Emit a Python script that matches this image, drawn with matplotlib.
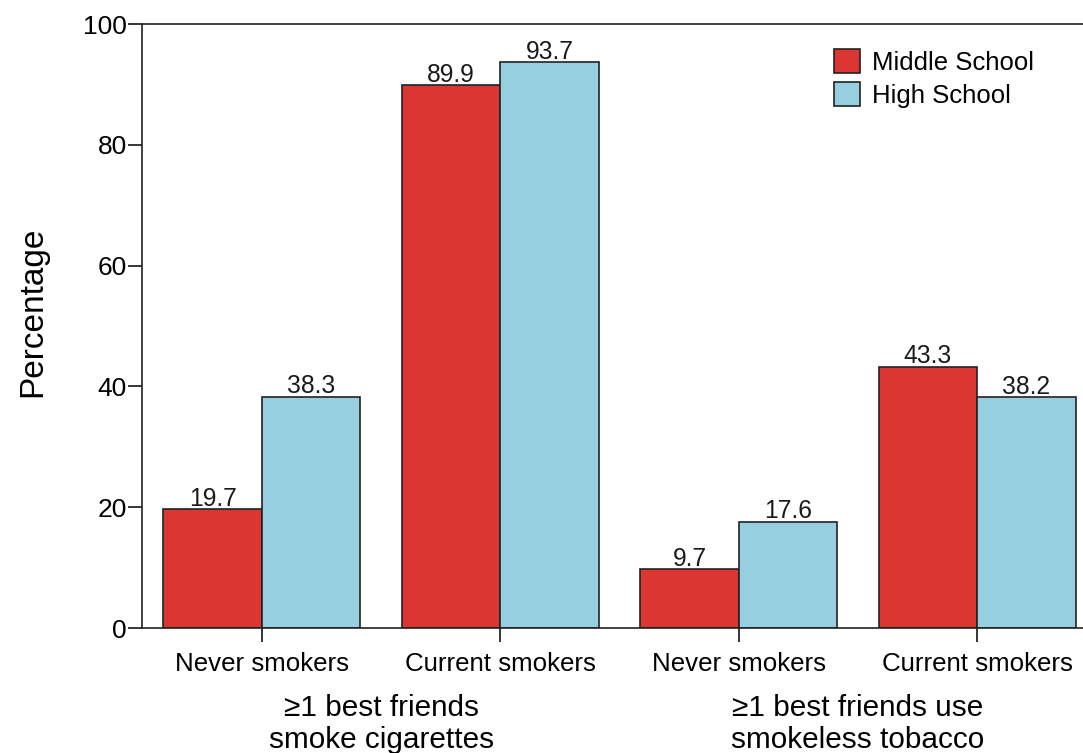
import matplotlib.pyplot as plt
import numpy as np

plt.rcParams['font.family'] = ['Liberation Sans', 'DejaVu Sans']

categories = ["Never smokers", "Current smokers", "Never smokers", "Current smokers"]
group_lines = [["\u22651 best friends", "smoke cigarettes"],
               ["\u22651 best friends use", "smokeless tobacco"]]
middle = [19.7, 89.9, 9.7, 43.3]
high = [38.3, 93.7, 17.6, 38.2]

red = "#dc3633"
blue = "#96cfdf"
edge = "#222222"

fig = plt.figure(figsize=(10.83, 7.53), dpi=100)
ax = fig.add_axes([0.1311, 0.166, 0.8689, 0.802])

x = np.arange(len(categories))
w = 0.413
b1 = ax.bar(x - w/2, middle, w, color=red, edgecolor=edge, linewidth=1.2, label="Middle School")
b2 = ax.bar(x + w/2, high, w, color=blue, edgecolor=edge, linewidth=1.2, label="High School")

for bars, vals in [(b1, middle), (b2, high)]:
    for r, v in zip(bars, vals):
        ax.text(r.get_x() + r.get_width()/2, v + 0.55, f"{v:.1f}",
                ha='center', va='baseline', fontsize=17.7, color="#1a1a1a")

ax.set_xlim(-0.503, 3.444)
ax.set_ylim(0, 100)
ax.set_yticks([0, 20, 40, 60, 80, 100])
ax.set_xticks(x)
ax.set_xticklabels(categories, fontsize=18.6)
ax.tick_params(axis='y', labelsize=19, length=10, width=1.1, pad=1, direction='out')
ax.tick_params(axis='x', length=10, width=1.1, pad=7, direction='out')

ax.spines['right'].set_visible(False)
for s in ['left', 'top', 'bottom']:
    ax.spines[s].set_linewidth(1.2)
    ax.spines[s].set_color("#222222")

ax.set_ylabel("Percentage", fontsize=24)
ax.yaxis.set_label_coords(-0.1, 0.523)

# group captions under the tick labels, one text per line
for i, lines in enumerate(group_lines):
    for j, line in enumerate(lines):
        ax.text(2*i + 0.5, -0.1457 - 0.053*j, line, transform=ax.get_xaxis_transform(),
                ha='center', va='baseline', fontsize=21.4)

ax.legend(loc='upper right', bbox_to_anchor=(0.972, 0.997), frameon=False,
          fontsize=18.5, handlelength=1.0, handleheight=1.05,
          handletextpad=0.45, labelspacing=0.3)

fig.savefig("out.png", dpi=100)
